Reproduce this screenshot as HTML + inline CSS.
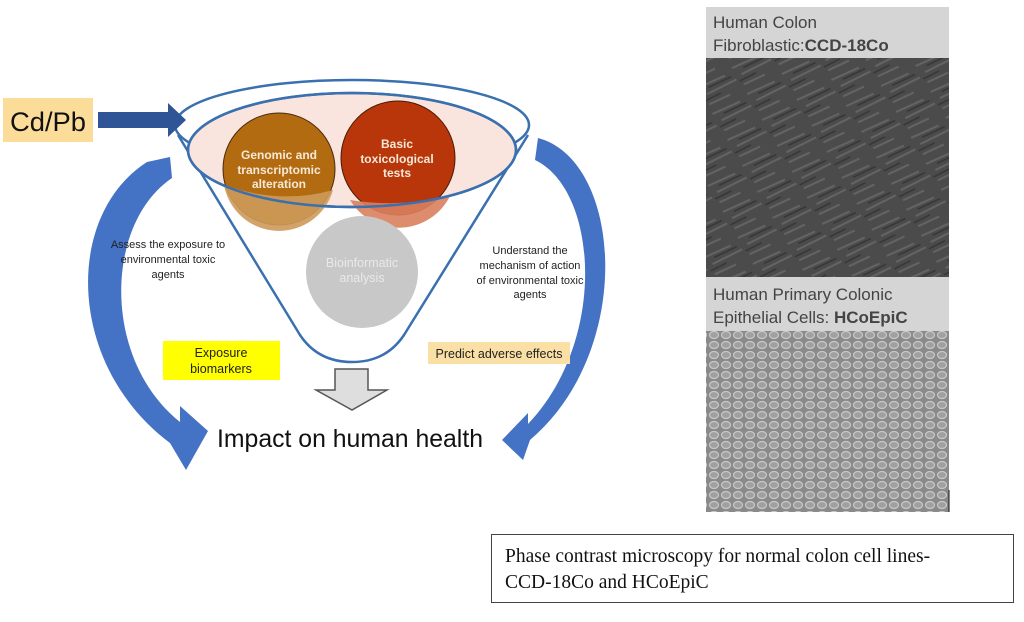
<!DOCTYPE html>
<html><head><meta charset="utf-8"><style>
html,body{margin:0;padding:0;background:#fff;}
svg{display:block;}
.c{font-family:"Liberation Sans",sans-serif;}
</style></head><body>
<svg width="1024" height="622" viewBox="0 0 1024 622" xmlns="http://www.w3.org/2000/svg">
<defs>
<pattern id="fib" width="40" height="30" patternUnits="userSpaceOnUse" patternTransform="rotate(-30)">
<rect width="40" height="30" fill="#4b4b4b"/>
<path d="M0 5 L30 8 M5 15 L38 17 M2 25 L25 27" stroke="#646464" stroke-width="2"/>
<path d="M10 10 L35 12 M0 20 L18 21" stroke="#363636" stroke-width="1.5"/>
</pattern>
<pattern id="epi" width="12" height="10" patternUnits="userSpaceOnUse">
<rect width="12" height="10" fill="#8a8a8a"/>
<ellipse cx="6" cy="5" rx="4.5" ry="3.5" fill="#a0a0a0" stroke="#c8c8c8" stroke-width="1.2"/>
</pattern>
</defs>

<!-- left curved arrow -->
<path d="M170 157 L147 162 C64 215 66 365 170 443 L186 470 L208 431 L180 406 L180 422 C102 360 104 224 172 178 Z" fill="#4472c4"/>
<!-- right curved arrow -->
<path d="M538 138 C622 160 636 350 530 440 L523 460 L502 440 L528 413 L528 424 C608 340 598 190 535 160 Z" fill="#4472c4"/>

<!-- funnel -->
<path d="M178 135 L300 335 Q318 362 352 362 Q386 362 404 335 L528 135" fill="none" stroke="#3a70b0" stroke-width="2.5"/>
<ellipse cx="352" cy="125" rx="177" ry="45" fill="#fff" stroke="#3a70b0" stroke-width="2.5"/>
<ellipse cx="352" cy="150" rx="164" ry="57" fill="#f9e5dd" stroke="#3a70b0" stroke-width="2.5"/>

<!-- Cd/Pb -->
<rect x="3" y="98" width="90" height="44" fill="#fbdc98"/>
<text x="10" y="131" class="c" font-size="27" fill="#111" textLength="76" lengthAdjust="spacingAndGlyphs">Cd/Pb</text>
<path d="M98 112 L168 112 L168 103 L186 120 L168 137 L168 128 L98 128 Z" fill="#2f5596"/>

<!-- circles -->
<circle cx="279" cy="169" r="56" fill="#b26b10" stroke="#4a2a10" stroke-width="1"/>
<circle cx="398" cy="158" r="57" fill="#b8360a" stroke="#4a1a08" stroke-width="1"/>
<path d="M224 185 A56 56 0 0 0 333 190 Q280 205 224 185Z" fill="#cd9a5a" opacity="0.9"/>
<path d="M350 200 A57 57 0 0 0 450 196 Q400 208 350 200Z" fill="#d9805e" opacity="0.9"/>
<ellipse cx="352" cy="150" rx="164" ry="57" fill="none" stroke="#3a70b0" stroke-width="2.5"/>
<circle cx="362" cy="272" r="56" fill="#c8c8c8"/>

<g class="c" font-weight="bold" fill="#f6e9d8" font-size="12" text-anchor="middle">
<text x="279" y="159">Genomic and</text>
<text x="279" y="174">transcriptomic</text>
<text x="279" y="188">alteration</text>
<text x="397" y="148">Basic</text>
<text x="397" y="163">toxicological</text>
<text x="397" y="177">tests</text>
</g>
<g class="c" fill="#e9e9e9" font-size="12.5" text-anchor="middle">
<text x="362" y="267">Bioinformatic</text>
<text x="362" y="282">analysis</text>
</g>

<g class="c" fill="#222" font-size="11" text-anchor="middle">
<text x="168" y="248">Assess the exposure to</text>
<text x="168" y="263">environmental toxic</text>
<text x="168" y="278">agents</text>
<text x="530" y="254">Understand the</text>
<text x="530" y="269">mechanism of action</text>
<text x="530" y="284">of environmental toxic</text>
<text x="530" y="298">agents</text>
</g>

<rect x="163" y="341" width="117" height="39" fill="#ffff00"/>
<g class="c" fill="#222" font-size="12.5" text-anchor="middle">
<text x="221" y="357">Exposure</text>
<text x="221" y="373">biomarkers</text>
</g>
<rect x="428" y="342" width="142" height="22" fill="#fbe0a6"/>
<text x="499" y="358" class="c" fill="#222" font-size="12.5" text-anchor="middle">Predict adverse effects</text>

<path d="M335 369 L368 369 L368 390 L387 390 L352 410 L316 390 L335 390 Z" fill="#dedede" stroke="#555" stroke-width="1.5"/>

<text x="217" y="447" class="c" font-size="25" fill="#111" textLength="266" lengthAdjust="spacingAndGlyphs">Impact on human health</text>

<!-- right panel -->
<rect x="706" y="7" width="243" height="51" fill="#d5d5d5"/>
<rect x="706" y="58" width="243" height="219" fill="url(#fib)"/>
<rect x="706" y="277" width="243" height="54" fill="#d5d5d5"/>
<rect x="706" y="331" width="243" height="181" fill="url(#epi)"/>
<line x1="949" y1="490" x2="949" y2="512" stroke="#111" stroke-width="1"/>
<g class="c" fill="#444" font-size="17">
<text x="713" y="28">Human Colon</text>
<text x="713" y="51">Fibroblastic:<tspan font-weight="bold">CCD-18Co</tspan></text>
<text x="713" y="300">Human Primary Colonic</text>
<text x="713" y="323">Epithelial Cells: <tspan font-weight="bold">HCoEpiC</tspan></text>
</g>

<!-- caption -->
<rect x="491.5" y="534.5" width="522" height="68" fill="#fff" stroke="#444" stroke-width="1"/>
<g font-family="'Liberation Serif',serif" font-size="19.5" fill="#111">
<text x="505" y="562">Phase contrast microscopy for normal colon cell lines-</text>
<text x="505" y="588">CCD-18Co and HCoEpiC</text>
</g>
</svg>
</body></html>
